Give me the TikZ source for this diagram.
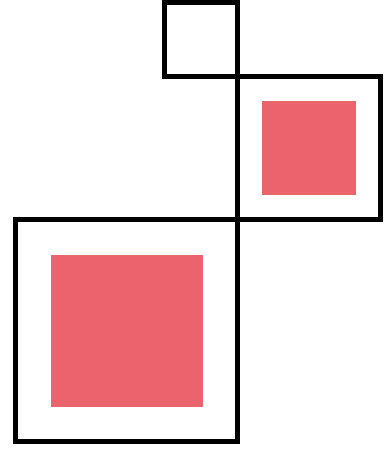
\documentclass[tikz,border=0pt]{standalone}
\definecolor{boxred}{RGB}{235,99,108}
\begin{document}
\begin{tikzpicture}[x=1pt,y=-1pt,
  frame/.style={draw=black,line width=5pt},
  fillsq/.style={fill=boxred}]
\useasboundingbox (0,0) rectangle (388,453);
\fill[fillsq] (262,101) rectangle (356,195);
\fill[fillsq] (51,255) rectangle (203,406.5);
\draw[frame] (164,2.5) rectangle (237.5,76.5);
\draw[frame] (237.5,76.5) rectangle (380,219);
\draw[frame] (15.5,219) rectangle (237.5,441.5);
\end{tikzpicture}
\end{document}
